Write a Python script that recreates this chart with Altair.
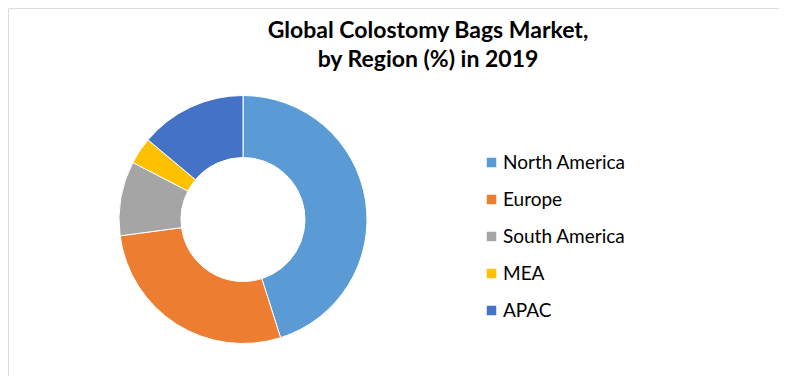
import altair as alt
import pandas as pd

regions = ["North America", "Europe", "South America", "MEA", "APAC"]
shares = [45.1, 27.8, 9.7, 3.5, 13.9]
colors = ["#5B9BD5", "#ED7D31", "#A5A5A5", "#FFC000", "#4472C4"]
title_lines = ["Global Colostomy Bags Market,", "by Region (%) in 2019"]

df = pd.DataFrame({"region": regions, "share": shares, "order": list(range(len(regions)))})

FONT = "Lato"
W, H = 771, 368

donut = alt.Chart(df).mark_arc(innerRadius=62, outerRadius=124, stroke="white", strokeWidth=1).encode(
    theta=alt.Theta("share:Q", stack=True),
    order=alt.Order("order:Q"),
    color=alt.Color(
        "region:N",
        scale=alt.Scale(domain=regions, range=colors),
        legend=alt.Legend(
            title=None,
            orient="none",
            legendX=474,
            legendY=145,
            symbolType="square",
            symbolSize=90,
            symbolStrokeWidth=0,
            labelFont=FONT,
            labelFontSize=19,
            labelColor="#000000",
            labelOffset=2,
            rowPadding=17,
            padding=0,
        ),
    ),
    x=alt.value(235),
    y=alt.value(211.5),
)

tdf = pd.DataFrame({"line": title_lines, "i": [0, 1]})
title = alt.Chart(tdf).mark_text(
    font=FONT, fontSize=23, fontWeight="bold", color="#000000", align="center", baseline="alphabetic"
).encode(
    text="line:N",
    x=alt.value(420),
    y=alt.Y("i:Q", scale=alt.Scale(domain=[0, 1], range=[30, 58.5]), axis=None),
)

chart = alt.layer(donut, title).properties(
    width=W, height=H, autosize=alt.AutoSizeParams(type="none"), padding=0
).configure_view(stroke="#8C8C8C", strokeWidth=2).configure(background="white")

chart.save("out.html", embed_options={"renderer": "svg", "actions": False})
